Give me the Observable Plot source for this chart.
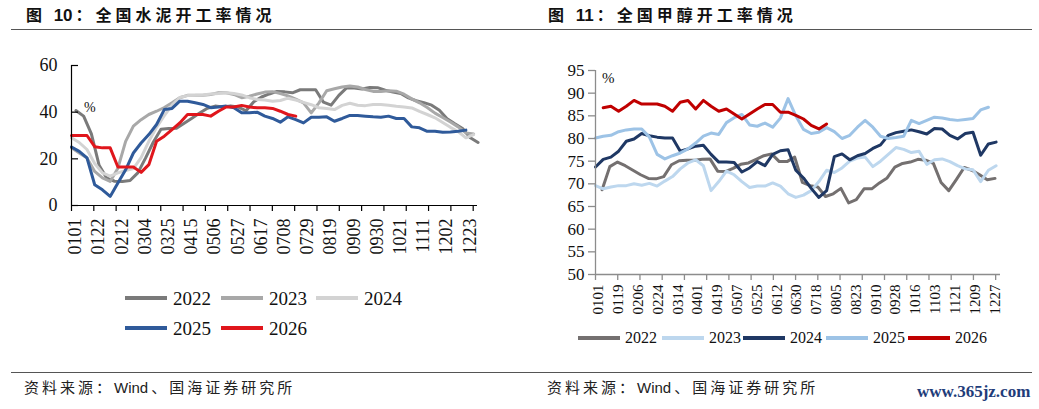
<!DOCTYPE html>
<html>
<head>
<meta charset="utf-8">
<script src="https://cdn.jsdelivr.net/npm/d3@7"></script>
<script src="https://cdn.jsdelivr.net/npm/@observablehq/plot@0.6"></script>
<style>
  html, body { margin: 0; padding: 0; background: #fff; }
  #page { position: relative; width: 1039px; height: 409px; overflow: hidden; background: #fff; }
  .chart { position: absolute; top: 0; }
  .title { position: absolute; top: 6px; line-height: 16px; font-family: "Noto Sans CJK SC", sans-serif; font-weight: 700; font-size: 16px; letter-spacing: 4px; color: #111; white-space: nowrap; }
  .title .num { letter-spacing: 0; font-family: "Liberation Sans", "Noto Sans", sans-serif; font-size: 17px; margin-right: 3px; }
  .rule { position: absolute; height: 0; border-top: 1.3px solid #555; }
  .source { position: absolute; top: 379px; line-height: 15px; font-family: "Noto Sans CJK SC", sans-serif; font-size: 15px; letter-spacing: 3px; color: #222; white-space: nowrap; }
  .source .lat { letter-spacing: 0; font-family: "Liberation Sans", sans-serif; font-size: 15px; margin-right: 3px; }
  .unit { position: absolute; font-family: "Liberation Serif", serif; color: #111; line-height: 1; }
  .item { position: absolute; display: flex; align-items: center; font-family: "Liberation Serif", serif; color: #111; white-space: nowrap; line-height: 1; }
  .sw { display: inline-block; width: 42px; height: 4px; }
  .mark { position: absolute; left: 917px; top: 383px; font-family: "Liberation Serif", serif; font-weight: 700; font-size: 17px; color: #1f3d7a; line-height: 17px; }
</style>
</head>
<body>
<div id="page"></div>
<script>
// ---------------- data: 图10 全国水泥开工率 (%) ----------------
const cementYears  = ["2022", "2023", "2024", "2025", "2026"];
const cementColors = ["#7a7a7a", "#a8a8a8", "#d3d3d3", "#2f5a9a", "#e0161c"];
const cementStart  = [4, 0, 0, 0, 0];           // day of year of first weekly observation
const cement2022 = [40.7, 38.3, 30.7, 17.2, 11.7, 10.4, 10.3, 10.7, 14, 20.3, 27.1, 32.7, 33, 33.1, 35.3, 37.4, 39.6, 41.7, 42.6, 42.2, 42.7, 42.2, 40.6, 44.5, 46.5, 47.8, 48.9, 48.7, 48.3, 49.6, 49.6, 49.6, 44.3, 43, 47.2, 50.4, 50.4, 49.9, 50.6, 50.5, 49.4, 48.6, 48, 46.1, 44.9, 44.1, 43, 40.8, 37.2, 35, 33, 29, 27];
const cement2023 = [24.7, 22.5, 20.4, 14.6, 11.8, 10.3, 16, 27.5, 34, 36.8, 39, 40.4, 42, 44, 46.2, 47.2, 47.2, 47.3, 47.6, 48.3, 48.3, 47.6, 46.2, 46.8, 47.8, 48.6, 48.8, 48, 47, 45.6, 44, 39.7, 44, 49.2, 50, 50.8, 51.2, 50.8, 49.7, 48.9, 48.9, 49.2, 49, 47.7, 45.7, 44, 42, 39.6, 37.7, 35.8, 33.7, 31.1, 30.7];
const cement2024 = [29, 27, 24, 18, 14, 12.6, 14, 15, 15.8, 20.5, 27.5, 33.5, 38.5, 43, 46.3, 47.1, 47.2, 47.4, 47.8, 48, 48.3, 48, 47.4, 46.2, 45.4, 45.2, 44.7, 45, 46, 45.2, 44.2, 43.2, 41.9, 41.6, 41.1, 42.9, 43.8, 43, 42.8, 43.3, 43.3, 43, 42.5, 42.2, 41.8, 40.3, 39, 37.6, 35.6, 33.5, 31.7, 29, 30.4];
const cement2025 = [25.1, 23.2, 20.4, 8.9, 6.7, 3.9, 9.6, 15.3, 22.5, 26.8, 30.4, 34.7, 41.1, 41.6, 44.7, 44.7, 44, 43.3, 41.9, 42.2, 42.6, 41.9, 39.7, 39.7, 40, 38.3, 37.3, 35.7, 38, 36.8, 35.4, 37.8, 37.8, 38, 36.1, 37.3, 38.6, 38.6, 38.3, 38, 37.8, 38.3, 37.3, 37.3, 33.7, 33.3, 31.8, 31.8, 31.4, 31.5, 31.8, 32.3];
const cement2026 = [30, 30, 30, 25.2, 24.7, 24.7, 16.5, 16.5, 16.5, 14.2, 17.5, 27.5, 29.7, 32.5, 35.4, 39, 39, 39, 38.3, 40.4, 42.2, 42.2, 42.9, 42.2, 41.9, 41.9, 41.6, 40.4, 39, 38.3];
const cementYTicks = [0, 20, 40, 60];
const cementXLabels = ["0101", "0122", "0212", "0304", "0325", "0415", "0506", "0527", "0617", "0708", "0729", "0819", "0909", "0930", "1021", "1111", "1202", "1223"];
const cementLabelStep = 21;   // days between x labels

// ---------------- data: 图11 全国甲醇开工率 (%) ----------------
const methYears  = ["2022", "2023", "2024", "2025", "2026"];
const methColors = ["#747070", "#bdd7ee", "#1f3864", "#9dc3e6", "#c00000"];
const methStart  = [6, 0, 0, 0, 7];
const meth2022 = [68.7, 73.8, 74.8, 74, 73, 72, 71.2, 71.1, 71.6, 74.2, 75.1, 75.2, 75.2, 75.4, 75.5, 72.8, 72.7, 73.4, 74.3, 74.6, 75.4, 76.2, 76.6, 74.9, 74.9, 75.9, 70.3, 69.6, 69.3, 67.2, 67.8, 69, 65.8, 66.5, 68.9, 68.9, 70.2, 71.3, 73.7, 74.5, 74.8, 75.4, 75.2, 74.5, 70.3, 68.5, 71, 73.6, 73, 72, 70.9, 71.2];
const meth2023 = [69.6, 68.9, 69.3, 69.6, 69.6, 70, 69.7, 70.1, 69.5, 70.6, 71.6, 73.3, 74.6, 75.3, 74, 68.5, 70.5, 72.8, 72, 70.5, 69.2, 69.5, 69.5, 70.2, 69.5, 67.8, 67, 67.5, 68.5, 70.5, 73, 72.5, 73.5, 75, 75.7, 75.9, 73.8, 75, 76.5, 78, 77.6, 76.9, 77.2, 74.3, 75.3, 75.5, 74.9, 74, 73.3, 73.1, 70.5, 73, 74];
const meth2024 = [73.7, 75.4, 75.9, 77.2, 79.4, 79.9, 81.1, 80.6, 80.3, 80.1, 80.1, 77.2, 77.7, 78.3, 78.5, 76.5, 74.8, 74.8, 74.7, 72.6, 73.5, 74.9, 74, 76.5, 77.3, 77.5, 73, 71.3, 69, 67, 68.5, 76, 76.6, 75.3, 76.2, 76.7, 77.8, 78.6, 80.7, 81.3, 81.6, 81.9, 81.5, 81, 82.2, 82.1, 80.7, 79.9, 81.1, 81.4, 76.3, 78.8, 79.2];
const meth2025 = [80.1, 80.5, 80.7, 81.5, 81.9, 82.1, 82.1, 80.3, 76.5, 75.5, 76.2, 76.8, 77.7, 79, 80.5, 81.2, 80.9, 83.5, 84.6, 85.3, 83, 82.7, 83.4, 82.5, 84.5, 88.8, 85, 82, 81.1, 81.4, 82.4, 81.5, 80, 80.7, 82.5, 84, 82.5, 80.5, 80, 80.2, 80.5, 84, 83.3, 84, 84.7, 84.5, 84.2, 84, 84.2, 84.4, 86.3, 86.9];
const meth2026 = [86.8, 87.1, 86.0, 87.1, 88.4, 87.6, 87.6, 87.6, 87.1, 86.0, 88.0, 88.4, 86.5, 88.4, 87.1, 86.0, 86.5, 85.4, 84.3, 85.4, 86.5, 87.5, 87.5, 85.8, 85.8, 85.1, 84.3, 82.9, 82.1, 83.2];
const methYTicks = [50, 55, 60, 65, 70, 75, 80, 85, 90, 95];
const methXLabels = ["0101", "0119", "0206", "0224", "0314", "0401", "0419", "0507", "0525", "0612", "0630", "0718", "0805", "0823", "0910", "0928", "1016", "1103", "1121", "1209", "1227"];
const methLabelStep = 18;

const tickStep = 20.2;   // days between x tick marks
const tickCount = 19;

// ---------------- helpers ----------------
function toRows(years, starts, series) {
  const rows = [];
  series.forEach((vals, s) => vals.forEach((v, k) => rows.push({year: years[s], day: starts[s] + 7 * k, value: v})));
  return rows;
}
const cementRows = toRows(cementYears, cementStart, [cement2022, cement2023, cement2024, cement2025, cement2026]);
const methRows = toRows(methYears, methStart, [meth2022, meth2023, meth2024, meth2025, meth2026]);
const tickDays = d3.range(tickCount).map(j => j * tickStep);
const cementLabelDays = cementXLabels.map((_, j) => j * cementLabelStep);
const methLabelDays = methXLabels.map((_, j) => j * methLabelStep);
const cementLabelOf = new Map(cementLabelDays.map((d, j) => [d, cementXLabels[j]]));
const methLabelOf = new Map(methLabelDays.map((d, j) => [d, methXLabels[j]]));

const page = document.getElementById("page");

// ---------------- left chart ----------------
const leftW = 520, leftML = 71, leftMR = 43;
const left = Plot.plot({
  width: leftW, height: 409,
  marginLeft: leftML, marginRight: leftMR, marginTop: 65, marginBottom: 204,
  x: {domain: [0, 367.5], axis: null},
  y: {domain: [0, 60], axis: null},
  color: {domain: cementYears, range: cementColors},
  style: {background: "transparent", fontFamily: "Liberation Serif, serif", color: "#111", overflow: "visible"},
  marks: [
    Plot.line(cementRows, {x: "day", y: "value", z: "year", stroke: "year", strokeWidth: 3, strokeLinejoin: "round"}),
    Plot.ruleY([0], {stroke: "#000", strokeWidth: 1.2}),
    Plot.ruleX([0], {stroke: "#000", strokeWidth: 1.2}),
    Plot.tickY(cementYTicks, {y: d => d, stroke: "#000", strokeWidth: 1.2, insetRight: leftW - leftML - leftMR - 7}),
    Plot.axisY(cementYTicks, {label: null, tickSize: 0, tickPadding: 14, fontSize: 18, fill: "#111"}),
    Plot.axisX(tickDays, {label: null, tickSize: 6, stroke: "#000", strokeWidth: 1.2, tickFormat: () => ""}),
    Plot.axisX(cementLabelDays, {label: null, tickSize: 0, tickPadding: 13, tickRotate: -90, fontSize: 18, fill: "#111", dx: 4, tickFormat: d => cementLabelOf.get(d)})
  ]
});
left.classList.add("chart");
left.style.left = "0px";
page.appendChild(left);

// ---------------- right chart ----------------
const right = Plot.plot({
  width: 519, height: 409,
  marginLeft: 75, marginRight: 39, marginTop: 70, marginBottom: 135,
  x: {domain: [0, 368], axis: null},
  y: {domain: [50, 95], axis: null},
  color: {domain: methYears, range: methColors},
  style: {background: "transparent", fontFamily: "Liberation Serif, serif", color: "#111", overflow: "visible"},
  marks: [
    Plot.line(methRows, {x: "day", y: "value", z: "year", stroke: "year", strokeWidth: 3, strokeLinejoin: "round"}),
    Plot.ruleY([50], {stroke: "#8c8c8c", strokeWidth: 1.3}),
    Plot.ruleX([0], {stroke: "#8c8c8c", strokeWidth: 1.3}),
    Plot.axisY(methYTicks, {label: null, tickSize: 7, tickPadding: 4, stroke: "#8c8c8c", strokeWidth: 1.3, fontSize: 17, fill: "#111"}),
    Plot.axisX(tickDays, {label: null, tickSize: 6, stroke: "#8c8c8c", strokeWidth: 1.3, tickFormat: () => ""}),
    Plot.axisX(methLabelDays, {label: null, tickSize: 0, tickPadding: 10, tickRotate: -90, fontSize: 15, fill: "#111", dx: 3, tickFormat: d => methLabelOf.get(d)})
  ]
});
right.classList.add("chart");
right.style.left = "520px";
page.appendChild(right);

// ---------------- html text, rules, legends ----------------
function add(cls, html, style) {
  const el = document.createElement("div");
  el.className = cls;
  if (html != null) el.innerHTML = html;
  Object.assign(el.style, style);
  page.appendChild(el);
  return el;
}
add("title", '图 <span class="num">10</span>：全国水泥开工率情况', {left: "26px"});
add("title", '图 <span class="num">11</span>：全国甲醇开工率情况', {left: "548px"});
add("rule", null, {left: "11px", width: "509px", top: "29px"});
add("rule", null, {left: "520px", width: "512px", top: "29px"});
add("rule", null, {left: "11px", width: "509px", top: "372px"});
add("rule", null, {left: "520px", width: "512px", top: "372px"});
add("source", '资料来源：<span class="lat">Wind</span>、国海证券研究所', {left: "24px"});
add("source", '资料来源：<span class="lat">Wind</span>、国海证券研究所', {left: "547px"});
add("unit", "%", {left: "84px", top: "101px", fontSize: "14px"});
add("unit", "%", {left: "602px", top: "71px", fontSize: "15px"});
add("mark", "www.365jz.com", {});

function legendItem(label, color, x, yc, fs, gap) {
  const el = add("item", null, {left: x + "px", top: (yc - fs / 2) + "px", height: fs + "px", fontSize: fs + "px"});
  const sw = document.createElement("span");
  sw.className = "sw";
  sw.style.background = color;
  sw.style.marginRight = gap + "px";
  el.appendChild(sw);
  const t = document.createElement("span");
  t.textContent = label;
  el.appendChild(t);
}
const leftLegendPos = [[125, 298], [221, 298], [316, 298], [125, 328], [221, 328]];
cementYears.forEach((y, i) => legendItem(y, cementColors[i], leftLegendPos[i][0], leftLegendPos[i][1], 19, 6));
const rightLegendX = [578, 662, 743, 826, 908];
methYears.forEach((y, i) => legendItem(y, methColors[i], rightLegendX[i], 338, 16, 5));
</script>
</body>
</html>
